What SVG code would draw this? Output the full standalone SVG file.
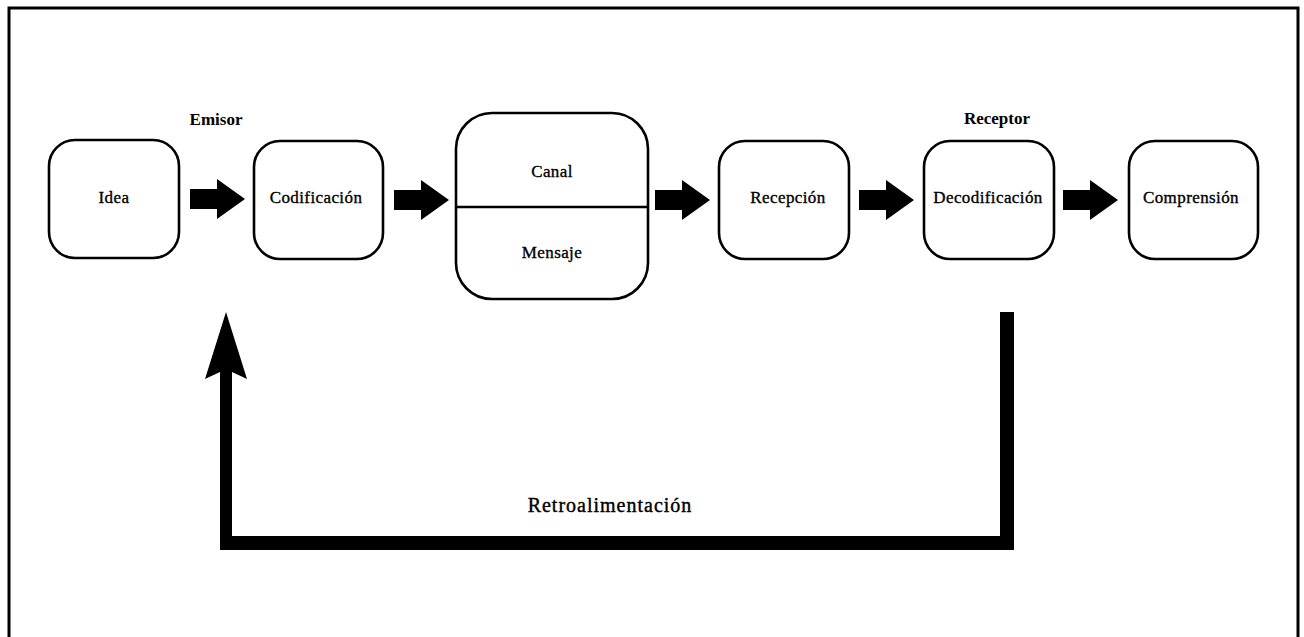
<svg xmlns="http://www.w3.org/2000/svg" width="1304" height="637" viewBox="0 0 1304 637">
<style>
.box{fill:#fff;stroke:#000;stroke-width:2.6}
.lbl{font-family:"Liberation Serif",serif;font-size:17px;letter-spacing:0.4px;fill:#000;stroke:#000;stroke-width:0.35px;text-anchor:middle}
.hdr{font-family:"Liberation Serif",serif;font-size:17px;font-weight:bold;fill:#000;text-anchor:middle}
.blk{fill:#000}
</style>
<rect width="1304" height="637" fill="#fff"/>
<path d="M9,640 V8 H1298 V640" fill="none" stroke="#000" stroke-width="3"/>
<text class="hdr" x="216" y="125">Emisor</text>
<text class="hdr" x="997" y="124">Receptor</text>
<g id="idea"><rect class="box" x="49" y="140" width="130" height="118" rx="26"/><text class="lbl" x="114" y="203">Idea</text></g>
<g id="codificacion"><rect class="box" x="254" y="141" width="129" height="118" rx="26"/><text class="lbl" x="316" y="203">Codificación</text></g>
<g id="canal"><rect class="box" x="456" y="113" width="192" height="186" rx="36"/><line x1="456" y1="207" x2="648" y2="207" stroke="#000" stroke-width="2.6"/><text class="lbl" x="552" y="177">Canal</text><text class="lbl" x="552" y="258">Mensaje</text></g>
<g id="recepcion"><rect class="box" x="719" y="141" width="130" height="118" rx="26"/><text class="lbl" x="788" y="203">Recepción</text></g>
<g id="decodificacion"><rect class="box" x="924" y="141" width="130" height="118" rx="26"/><text class="lbl" x="988" y="203">Decodificación</text></g>
<g id="comprension"><rect class="box" x="1129" y="141" width="129" height="118" rx="26"/><text class="lbl" x="1191" y="203">Comprensión</text></g>
<g id="connectors">
<polygon class="blk" points="190,189 217,189 217,179 245,199 217,219 217,209 190,209"/>
<polygon class="blk" points="394,190 421,190 421,180 449,200 421,220 421,210 394,210"/>
<polygon class="blk" points="655,190 682,190 682,180 710,200 682,220 682,210 655,210"/>
<polygon class="blk" points="859,190 886,190 886,180 914,200 886,220 886,210 859,210"/>
<polygon class="blk" points="1063,190 1090,190 1090,180 1118,200 1090,220 1090,210 1063,210"/>
<polygon class="blk" points="1000,312 1014,312 1014,550 220,550 220,372 205,379 226,312 247,379 232,372 232,536 1000,536"/>
</g>
<text x="610" y="512" font-family="Liberation Serif, serif" font-size="20" letter-spacing="1" text-anchor="middle" fill="#000" stroke="#000" stroke-width="0.4">Retroalimentación</text>
</svg>
